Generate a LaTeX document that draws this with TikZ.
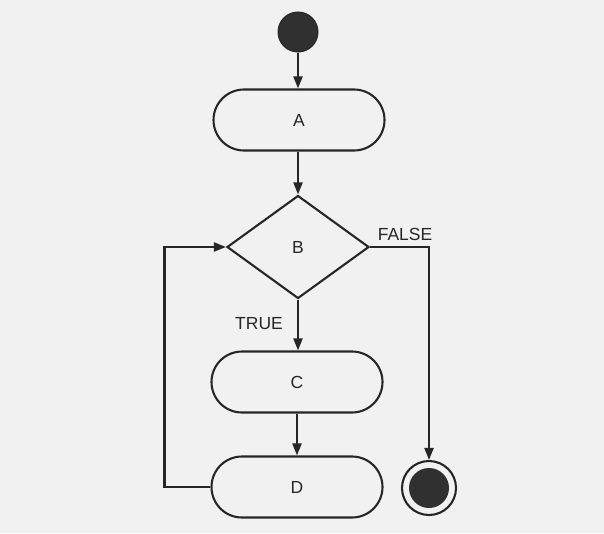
\documentclass[tikz,border=0pt]{standalone}
\usepackage{fontspec}
\setmainfont{Liberation Sans}
\usetikzlibrary{shapes.misc,shapes.geometric,arrows.meta}
\definecolor{bg}{HTML}{F1F1F1}
\definecolor{ink}{HTML}{262626}
\definecolor{blob}{HTML}{303030}
\begin{document}
\begin{tikzpicture}[x=1pt,y=-1pt,
  act/.style={rounded rectangle,draw=ink,line width=2.1pt,minimum width=171pt,minimum height=61pt,inner sep=0pt,font=\fontsize{17.5}{20}\selectfont,text=ink},
  dec/.style={diamond,draw=ink,line width=2.1pt,minimum width=142pt,minimum height=103pt,inner sep=0pt,font=\fontsize{17.5}{20}\selectfont,text=ink},
  lbl/.style={font=\fontsize{17.5}{20}\selectfont,text=ink,inner sep=0pt},
  flow/.style={draw=ink,line width=2.1pt,-{Triangle[length=12pt,width=9pt]}}]
\fill[bg] (0,0) rectangle (604,533);
\useasboundingbox (0,0) rectangle (604,533);
\node[circle,fill=blob,draw=ink,line width=1pt,minimum size=40pt,inner sep=0pt] (start) at (298,32) {};
\node[act] (A) at (299,120) {A};
\node[dec] (B) at (298,247) {B};
\node[act] (C) at (297,382) {C};
\node[act] (D) at (297,487) {D};
\node[circle,draw=ink,line width=2.1pt,minimum size=54pt,inner sep=0pt] (end) at (429,488) {};
\node[circle,fill=blob,minimum size=40pt,inner sep=0pt] (endin) at (end.center) {};
\node[lbl] (f) at (405,234) {FALSE};
\node[lbl] (t) at (259,324) {TRUE};
\draw[flow] (start.south) -- (start.south|-A.north);
\draw[flow] (A.south-|B.north) -- (B.north);
\draw[flow] (B.south) -- (B.south|-C.north);
\draw[flow] (C.south) -- (D.north);
\draw[flow] (D.west) -- ++(-46,0) |- (B.west);
\draw[flow] (B.east) -| (end.north);
\end{tikzpicture}
\end{document}
